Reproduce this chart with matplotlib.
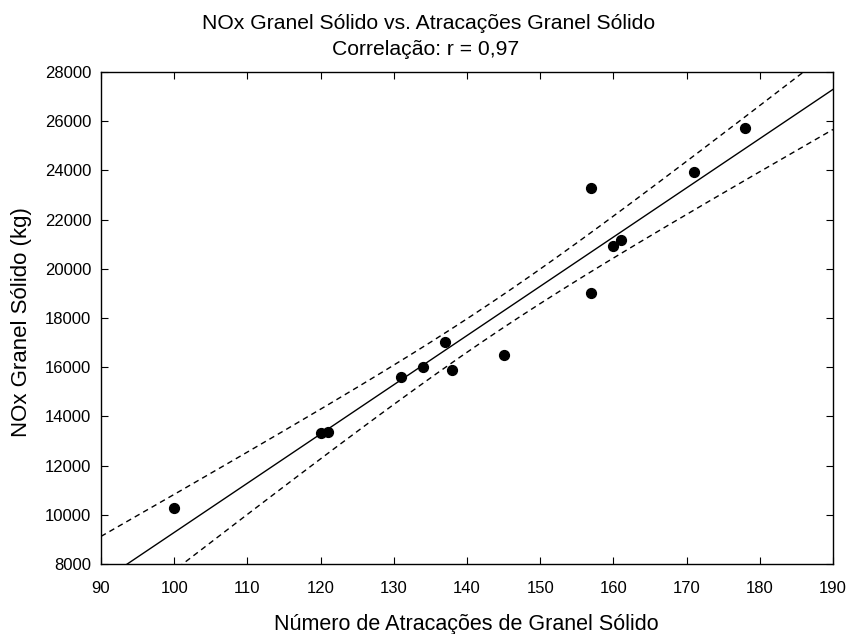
import matplotlib

matplotlib.use("Agg")
import matplotlib.pyplot as plt
import numpy as np

plt.rcParams["font.family"] = ["Liberation Sans", "DejaVu Sans"]

# data
atracacoes = np.array([100, 120, 121, 131, 134, 137, 138, 145, 157, 157, 160, 161, 171, 178])
nox_kg = np.array([10280, 13320, 13370, 15600, 16000, 17020, 15890, 16500,
                   23280, 19020, 20930, 21170, 23930, 25720])

x_ticks = list(range(90, 191, 10))
y_ticks = list(range(8000, 28001, 2000))

# linear fit with 95% confidence band of the mean
n = len(atracacoes)
slope, intercept = np.polyfit(atracacoes, nox_kg, 1)
resid = nox_kg - (slope * atracacoes + intercept)
s_err = np.sqrt(np.sum(resid ** 2) / (n - 2))
x_mean = atracacoes.mean()
sxx = np.sum((atracacoes - x_mean) ** 2)
t_val = 2.1788  # t(0.975, 12)
r = np.corrcoef(atracacoes, nox_kg)[0, 1]

xs = np.linspace(90, 190, 300)
fit = slope * xs + intercept
half = t_val * s_err * np.sqrt(1 / n + (xs - x_mean) ** 2 / sxx)

W, H = 851, 634
fig = plt.figure(figsize=(W / 100, H / 100), dpi=100)
ax = fig.add_axes([101 / W, 1 - 564 / H, 732 / W, 492 / H])

ax.plot(xs, fit, color="black", linewidth=1.0)
ax.plot(xs, fit + half, color="black", linewidth=1.0, linestyle=(0, (4, 3)))
ax.plot(xs, fit - half, color="black", linewidth=1.0, linestyle=(0, (4, 3)))
ax.scatter(atracacoes, nox_kg, s=50, color="black", zorder=3)

ax.set_xlim(90, 190)
ax.set_ylim(8000, 28000)
ax.set_xticks(x_ticks)
ax.set_yticks(y_ticks)
ax.tick_params(direction="in", top=True, right=True, labelsize=12, length=5)
ax.tick_params(axis="x", pad=12)
ax.tick_params(axis="y", pad=7)
for spine in ax.spines.values():
    spine.set_linewidth(1.0)

ax.set_xlabel("Número de Atracações de Granel Sólido", fontsize=15.5, va="baseline")
ax.xaxis.set_label_coords((466 - 101) / 732, (564 - 630) / 492)
ax.set_ylabel("NOx Granel Sólido (kg)", fontsize=16, va="center")
ax.yaxis.set_label_coords((22 - 101) / 732, (564 - 322) / 492)

r_text = f"{r:.2f}".replace(".", ",")
fig.text(429 / W, 1 - 29 / H, "NOx Granel Sólido vs. Atracações Granel Sólido",
         fontsize=15.2, ha="center", va="baseline")
fig.text(426 / W, 1 - 55 / H, f"Correlação: r = {r_text}",
         fontsize=15.2, ha="center", va="baseline")

fig.savefig("out.png", dpi=100)
